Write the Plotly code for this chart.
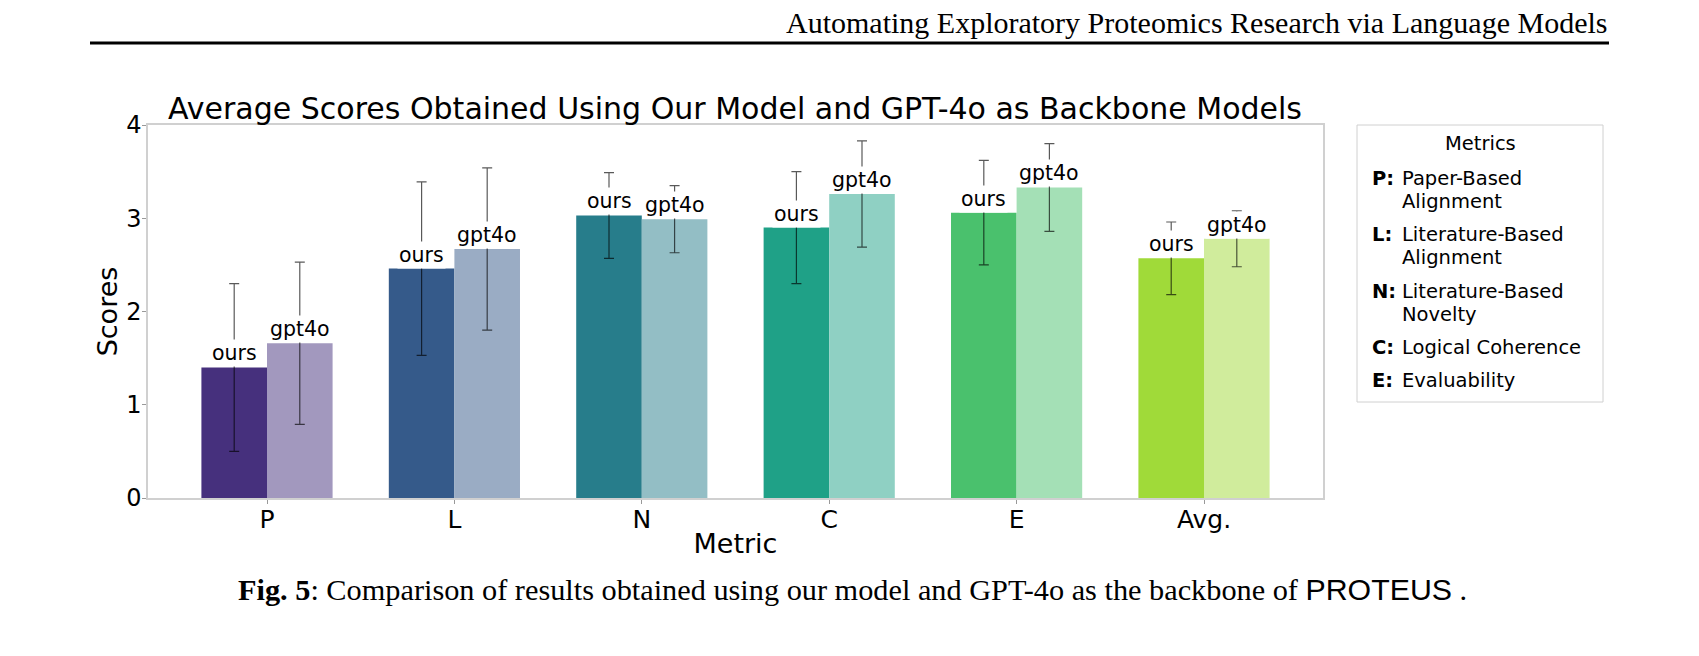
import plotly.graph_objects as go

# ---------------- data ----------------
categories = ["P", "L", "N", "C", "E", "Avg."]
ours = [1.40, 2.46, 3.03, 2.90, 3.06, 2.57]
gpt4o = [1.66, 2.67, 2.99, 3.26, 3.33, 2.78]
ours_err = [0.90, 0.93, 0.46, 0.60, 0.56, 0.39]
gpt4o_err = [0.87, 0.87, 0.36, 0.57, 0.47, 0.30]
series_labels = ["ours", "gpt4o"]

legend_title = "Metrics"
legend_keys = ["P:", "L:", "N:", "C:", "E:"]
legend_texts = [
    ["Paper-Based", "Alignment"],
    ["Literature-Based", "Alignment"],
    ["Literature-Based", "Novelty"],
    ["Logical Coherence"],
    ["Evaluability"],
]

chart_title = "Average Scores Obtained Using Our Model and GPT-4o as Backbone Models"
x_title = "Metric"
y_title = "Scores"
y_ticks = [0, 1, 2, 3, 4]
header_text = "Automating Exploratory Proteomics Research via Language Models"
caption_bold = "Fig. 5"
caption_text = ": Comparison of results obtained using our model and GPT-4o as the backbone of "
caption_name = "PROTEUS"

# ---------------- styling ----------------
W, H = 1699, 656
L, R, T, B = 148, 1323, 125, 498
SANS = "DejaVu Sans"
SERIF = "Liberation Serif"
base_colors = ["#46307d", "#355a8a", "#277d8b", "#1fa187", "#4ac16d", "#a0da39"]


def lighten(c, a=0.5):
    r, g, b = int(c[1:3], 16), int(c[3:5], 16), int(c[5:7], 16)
    f = lambda v: int(round(v * a + 255 * (1 - a)))
    return "#%02x%02x%02x" % (f(r), f(g), f(b))


light_colors = [lighten(c) for c in base_colors]


def px(x):
    return (x - L) / (R - L)


def py(y):
    return (B - y) / (B - T)


bar_w = 0.35
idx = list(range(len(categories)))
x_ours = [i - bar_w / 2 for i in idx]
x_gpt = [i + bar_w / 2 for i in idx]

err_style = dict(type="data", color="rgba(0,0,0,0.65)", thickness=1.2, width=5)

fig = go.Figure()
fig.add_trace(go.Bar(x=x_ours, y=ours, width=bar_w, name=series_labels[0],
                     marker=dict(color=base_colors, line=dict(width=0)),
                     error_y=dict(array=ours_err, **err_style)))
fig.add_trace(go.Bar(x=x_gpt, y=gpt4o, width=bar_w, name=series_labels[1],
                     marker=dict(color=light_colors, line=dict(width=0)),
                     error_y=dict(array=gpt4o_err, **err_style)))

annotations = []
for xs, ys, lab in [(x_ours, ours, series_labels[0]), (x_gpt, gpt4o, series_labels[1])]:
    for xv, yv in zip(xs, ys):
        annotations.append(dict(x=xv, y=yv, xref="x", yref="y", text=lab, showarrow=False,
                                yanchor="bottom", xanchor="center", bgcolor="white",
                                borderpad=1, font=dict(family=SANS, size=20.5, color="black")))

# legend box (matplotlib-like)
shapes = [
    dict(type="rect", xref="paper", yref="paper", x0=px(1357), x1=px(1603), y0=py(402), y1=py(125),
         line=dict(color="#d0d0d0", width=1), fillcolor="white", layer="above"),
    dict(type="line", xref="paper", yref="paper", x0=px(90), x1=px(1609), y0=py(43), y1=py(43),
         line=dict(color="black", width=3)),
]
annotations.append(dict(x=px(1480), y=py(143), xref="paper", yref="paper", text=legend_title,
                        showarrow=False, xanchor="center", yanchor="middle",
                        font=dict(family=SANS, size=19.5, color="black")))
row_y = 178
line_h = 23.4
gap = 9.75
for key, lines in zip(legend_keys, legend_texts):
    annotations.append(dict(x=px(1370), y=py(row_y), xref="paper", yref="paper",
                            text="<b>" + key + "</b>", showarrow=False, xanchor="left",
                            yanchor="middle", font=dict(family=SANS, size=19.5, color="black")))
    for k, ln in enumerate(lines):
        annotations.append(dict(x=px(1400), y=py(row_y + k * line_h), xref="paper", yref="paper",
                                text=ln, showarrow=False, xanchor="left", yanchor="middle",
                                font=dict(family=SANS, size=19.5, color="black")))
    row_y += len(lines) * line_h + gap

# header and caption
annotations.append(dict(x=px(1609), y=py(22), xref="paper", yref="paper", text=header_text,
                        showarrow=False, xanchor="right", yanchor="middle",
                        font=dict(family=SERIF, size=30, color="black")))
annotations.append(dict(x=px(852), y=py(590), xref="paper", yref="paper",
                        text="<b>" + caption_bold + "</b>" + caption_text
                             + "<span style=\"font-family:'Liberation Sans'\">" + caption_name + "</span> .",
                        showarrow=False, xanchor="center", yanchor="middle",
                        font=dict(family=SERIF, size=30.3, color="black")))

fig.update_layout(
    width=W, height=H,
    margin=dict(l=L, r=W - R, t=T, b=H - B, autoexpand=False),
    paper_bgcolor="white", plot_bgcolor="white",
    showlegend=False,
    barmode="overlay",
    title=dict(text=chart_title, x=px(735), xref="paper", xanchor="center",
               y=1 - 108 / H, yref="container", yanchor="middle",
               font=dict(family=SANS, size=30, color="black")),
    annotations=annotations,
    shapes=shapes,
)
fig.update_xaxes(range=[-0.635, 5.635], tickvals=idx, ticktext=categories,
                 showline=True, mirror=True, linecolor="#d0d0d0", linewidth=1.5,
                 ticks="outside", ticklen=4, tickcolor="#999999", showgrid=False, zeroline=False,
                 ticklabelstandoff=-6,
                 tickfont=dict(family=SANS, size=25, color="black"),
                 title=dict(text=x_title, standoff=1, font=dict(family=SANS, size=27, color="black")))
fig.update_yaxes(range=[0, 4], tickvals=y_ticks,
                 showline=True, mirror=True, linecolor="#d0d0d0", linewidth=1.5,
                 ticks="outside", ticklen=4, tickcolor="#999999", showgrid=False, zeroline=False,
                 ticklabelstandoff=-4,
                 tickfont=dict(family=SANS, size=24, color="black"),
                 title=dict(text=y_title, standoff=1, font=dict(family=SANS, size=27, color="black")))

fig.write_html("out.html")
